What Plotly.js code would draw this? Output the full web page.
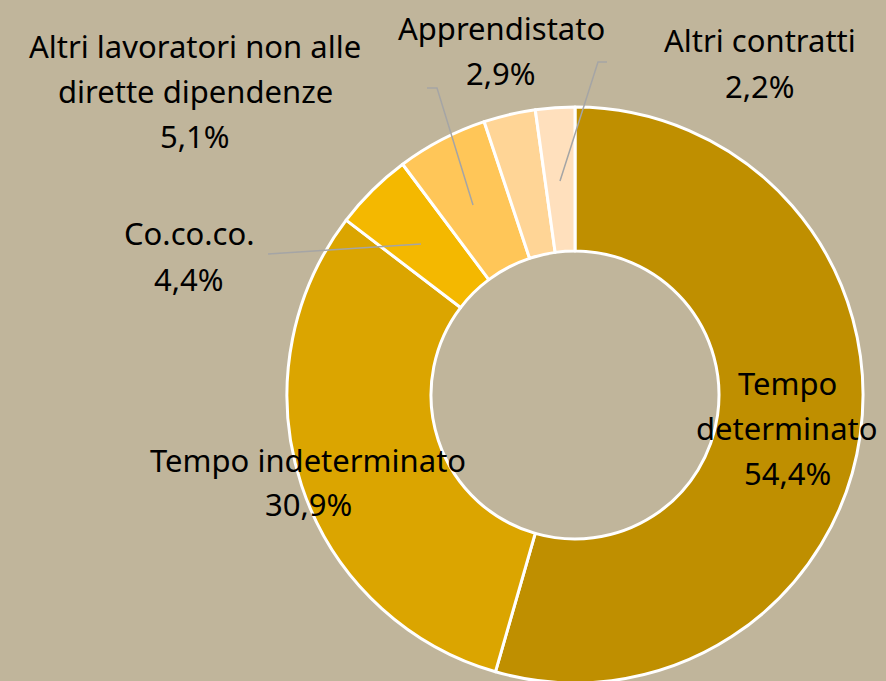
<!DOCTYPE html>
<html>
<head>
<meta charset="utf-8">
<script src="https://cdn.plot.ly/plotly-3.0.1.min.js"></script>
<style>html,body{margin:0;padding:0;background:#C0B59B;overflow:hidden;}#chart{width:886px;height:683px;}</style>
</head>
<body>
<div id="chart"></div>
<script>
const categories = ["Tempo determinato", "Tempo indeterminato", "Co.co.co.", "Altri lavoratori non alle dirette dipendenze", "Apprendistato", "Altri contratti"];
const values = [54.4, 30.9, 4.4, 5.1, 2.9, 2.2];
const valueLabels = ["54,4%", "30,9%", "4,4%", "5,1%", "2,9%", "2,2%"];
const colors = ["#BF8F00", "#DBA500", "#F4B800", "#FFC658", "#FFD596", "#FFE0BD"];

const W = 886, H = 683;
const px = x => x / W;
const py = y => 1 - y / H;

// label line layout: for each category, lines of text and their pixel centres
const labelLines = [
  {lines: ["Tempo", "determinato", valueLabels[0]], x: 787, y: [383, 428, 473]},
  {lines: ["Tempo indeterminato", valueLabels[1]], x: 308, y: [460, 504]},
  {lines: ["Co.co.co.", valueLabels[2]], x: 189, y: [233, 279]},
  {lines: ["Altri lavoratori non alle", "dirette dipendenze", valueLabels[3]], x: 195, y: [46, 91, 136]},
  {lines: ["Apprendistato", valueLabels[4]], x: 501, y: [28, 73]},
  {lines: ["Altri contratti", valueLabels[5]], x: 760, y: [40, 86]}
];

const annotations = [];
labelLines.forEach(l => {
  l.lines.forEach((t, i) => {
    annotations.push({
      text: t, xref: "paper", yref: "paper", x: px(l.x), y: py(l.y[i]),
      xanchor: "center", yanchor: "middle", showarrow: false,
      font: {family: "Noto Sans", size: 31, color: "#000000"}
    });
  });
});

const leaders = [
  [[268, 254], [421, 244]],
  [[427, 88], [437, 88], [473, 205]],
  [[607, 62], [598, 62], [560, 181]]
];
const shapes = leaders.map(pts => ({
  type: "path", xref: "paper", yref: "paper",
  path: pts.map((p, i) => (i ? "L" : "M") + px(p[0]) + "," + py(p[1])).join(" "),
  line: {color: "#A5A5A5", width: 1.5}
}));

const data = [{
  type: "pie",
  labels: categories,
  values: values,
  hole: 0.5,
  sort: false,
  direction: "clockwise",
  rotation: 0,
  textinfo: "none",
  hoverinfo: "label+percent",
  marker: {colors: colors, line: {color: "#FFFFFF", width: 3}},
  domain: {x: [px(575 - 288), px(575 + 288)], y: [0, 576 / H]},
  showlegend: false
}];

const layout = {
  width: W, height: H,
  margin: {l: 0, r: 0, t: 0, b: 0},
  paper_bgcolor: "#C0B59B",
  plot_bgcolor: "#C0B59B",
  showlegend: false,
  annotations: annotations,
  shapes: shapes
};

Plotly.newPlot("chart", data, layout, {displayModeBar: false, staticPlot: true});
</script>
</body>
</html>
